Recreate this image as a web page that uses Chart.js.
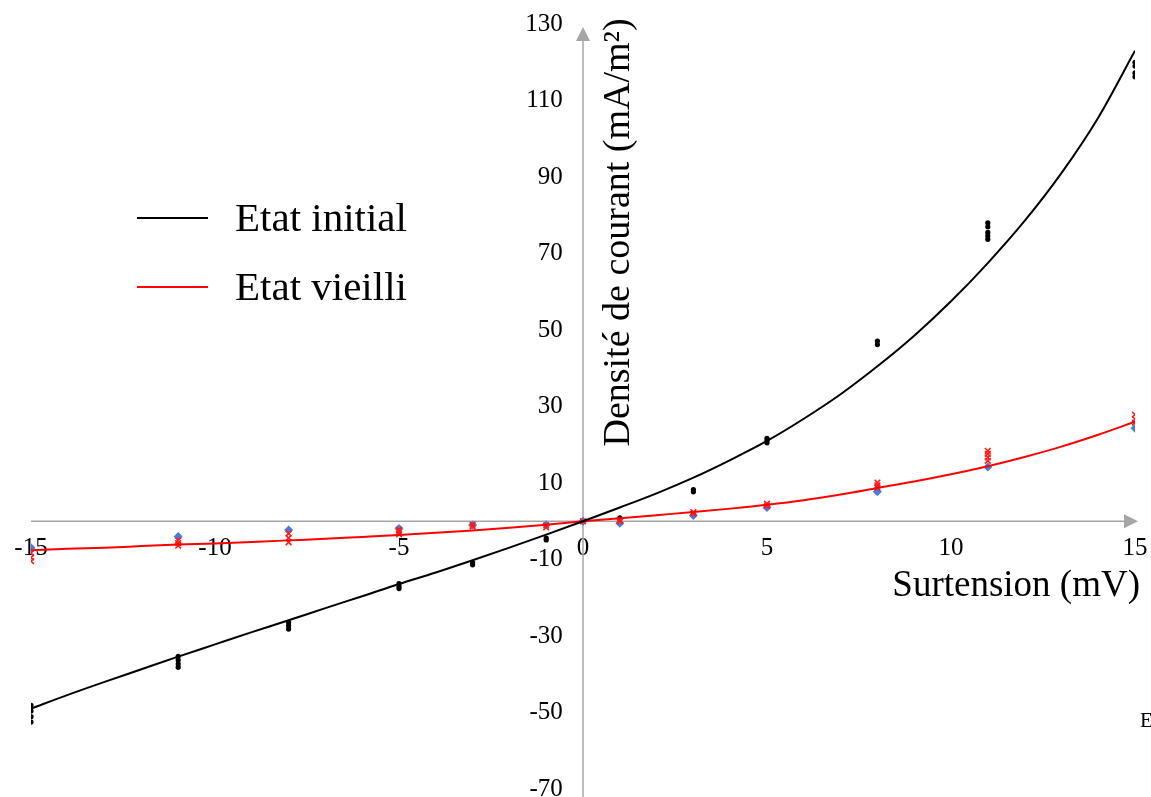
<!DOCTYPE html>
<html>
<head>
<meta charset="utf-8">
<script src="https://cdn.jsdelivr.net/npm/chart.js@4/dist/chart.umd.min.js"></script>
<style>
  html, body { margin: 0; padding: 0; background: #fff; }
  #wrap { width: 1151px; height: 797px; }
</style>
</head>
<body>
<div id="wrap"><canvas id="c" width="1151" height="797"></canvas></div>
<script>
// Overpotential (mV) at which the fitted curves are sampled
const fitX = [-15,-14,-13,-12,-11,-10,-9,-8,-7,-6,-5,-4,-3,-2,-1,0,1,2,3,4,5,6,7,8,9,10,11,12,13,14,15];
// Fitted current density (mA/m²), initial state
const initialFit = [-49.0,-45.4,-42.0,-38.7,-35.4,-32.2,-29.0,-25.9,-22.7,-19.6,-16.4,-13.4,-10.2,-6.9,-3.5,0,3.6,7.3,11.4,16.0,21.0,26.8,33.2,40.5,48.5,57.5,67.5,78.5,91.0,105.5,123.0];
// Fitted current density (mA/m²), aged state
const agedFit = [-7.6,-7.2,-6.9,-6.5,-6.1,-5.8,-5.4,-5.0,-4.6,-4.1,-3.6,-3.0,-2.4,-1.7,-0.9,0,0.8,1.6,2.4,3.3,4.3,5.5,7.0,8.7,10.4,12.3,14.4,16.8,19.5,22.6,26.0];

// Measurement overpotentials (mV)
const measX = [-15,-11,-8,-5,-3,-1,0,1,3,5,8,11,15];
// Repeated measurements, initial state (mA/m²)
const initialMeasured = [
  [-48.1,-49.6,-51.1,-52.5],
  [-35.3,-36.3,-37.3,-38.2],
  [-26.4,-27.3,-28.2],
  [-16.3,-17.0,-17.6],
  [-10.8,-11.4],
  [-4.4,-4.9],
  [0],
  [0.5,0.9],
  [7.7,8.3],
  [20.5,21.1,21.7],
  [46.2,47.1],
  [73.7,74.6,75.5,77.0,78.0],
  [116.2,117.2,119.0,120.0]
];
// Aged state, first run (mA/m²)
const agedRunA = [-6.9,-4.0,-2.3,-1.9,-1.0,-0.9,0,-0.5,1.5,3.6,7.7,14.2,24.3];
// Aged state, repeated runs (mA/m²)
const agedRunsB = [
  [-8.3,-9.5,-10.4],
  [-5.0,-5.7,-6.4],
  [-3.2,-4.4,-5.5],
  [-2.2,-2.8,-3.4],
  [-0.9,-1.4],
  [-1.1,-1.6],
  [0],
  [0.0,0.3],
  [2.0,2.4],
  [4.0,4.6],
  [8.8,9.4,10.1],
  [15.8,16.7,17.6,18.4],
  [25.8,26.7,27.9]
];

const xTicks = [-15,-10,-5,0,5,10,15];
const yTicks = [-70,-50,-30,-10,10,30,50,70,90,110,130];

const seriesNames = ['Etat initial', 'Etat vieilli'];
const xTitle = 'Surtension (mV)';
const yTitle = 'Densité de courant (mA/m²)';
const cornerMark = 'E';

const SERIF = '"Liberation Serif", "DejaVu Serif", serif';

function pairs(xs, ys) { return xs.map((x, i) => ({ x: x, y: ys[i] })); }
function flatten(xs, groups) {
  const out = [];
  groups.forEach((g, i) => g.forEach(v => out.push({ x: xs[i], y: v })));
  return out;
}

// Axes through the origin, arrow heads, titles and legend
const decor = {
  id: 'decor',
  beforeDatasetsDraw(chart) {
    const { ctx, chartArea, scales } = chart;
    const xs = scales.x, ys = scales.y;
    const y0 = ys.getPixelForValue(0);
    const x0 = xs.getPixelForValue(0);
    const xEnd = xs.getPixelForValue(15) + 3;
    const yTop = ys.getPixelForValue(130) + 3;
    ctx.save();
    ctx.strokeStyle = '#a6a6a6';
    ctx.fillStyle = '#a6a6a6';
    ctx.lineWidth = 1.5;
    ctx.beginPath();
    ctx.moveTo(chartArea.left, y0);
    ctx.lineTo(xEnd - 10, y0);
    ctx.moveTo(x0, chart.height);
    ctx.lineTo(x0, yTop + 10);
    ctx.stroke();
    ctx.beginPath();
    ctx.moveTo(xEnd, y0);
    ctx.lineTo(xEnd - 14, y0 - 7);
    ctx.lineTo(xEnd - 14, y0 + 7);
    ctx.closePath();
    ctx.fill();
    ctx.beginPath();
    ctx.moveTo(x0, yTop);
    ctx.lineTo(x0 - 7, yTop + 14);
    ctx.lineTo(x0 + 7, yTop + 14);
    ctx.closePath();
    ctx.fill();
    ctx.restore();
  },
  afterDraw(chart) {
    const { ctx, chartArea, scales } = chart;
    const xs = scales.x, ys = scales.y;
    const y0 = ys.getPixelForValue(0);
    const x0 = xs.getPixelForValue(0);
    ctx.save();
    ctx.fillStyle = '#000';
    // x title
    ctx.font = '37px ' + SERIF;
    ctx.textAlign = 'right';
    ctx.textBaseline = 'alphabetic';
    ctx.fillText(xTitle, xs.getPixelForValue(15) + 5, y0 + 75);
    // y title
    ctx.save();
    ctx.translate(x0 + 46, ys.getPixelForValue(75.5));
    ctx.rotate(-Math.PI / 2);
    ctx.textAlign = 'center';
    ctx.font = '38px ' + SERIF;
    ctx.fillText(yTitle, 0, 0);
    ctx.restore();
    // legend
    const colors = chart.data.datasets.slice(0, 2).map(d => d.borderColor);
    const lx = chartArea.left + 106;
    const rows = [chartArea.top + 194, chartArea.top + 263];
    ctx.font = '41px ' + SERIF;
    ctx.textAlign = 'left';
    rows.forEach((ry, i) => {
      ctx.strokeStyle = colors[i];
      ctx.lineWidth = 2;
      ctx.beginPath();
      ctx.moveTo(lx, ry);
      ctx.lineTo(lx + 71, ry);
      ctx.stroke();
      ctx.fillText(seriesNames[i], lx + 98, ry + 13);
    });
    // stray corner letter
    ctx.font = '21px ' + SERIF;
    ctx.fillText(cornerMark, chartArea.right + 5, ys.getPixelForValue(-50) + 14);
    ctx.restore();
  }
};

// y tick labels sit a little to the left of the vertical axis (value on the x scale)
const yLabelAnchor = -0.55;

new Chart(document.getElementById('c'), {
  type: 'scatter',
  data: {
    datasets: [
      {
        type: 'line', label: seriesNames[0], data: pairs(fitX, initialFit),
        borderColor: '#000000', borderWidth: 2, pointRadius: 0,
        cubicInterpolationMode: 'monotone', fill: false
      },
      {
        type: 'line', label: seriesNames[1], data: pairs(fitX, agedFit),
        borderColor: '#ff0000', borderWidth: 2, pointRadius: 0,
        cubicInterpolationMode: 'monotone', fill: false
      },
      {
        label: 'vieilli B', data: flatten(measX, agedRunsB),
        pointStyle: 'crossRot', pointRadius: 4, borderColor: '#ff1a1a',
        backgroundColor: '#ff1a1a', pointBorderWidth: 1.6
      },
      {
        label: 'vieilli A', data: pairs(measX, agedRunA),
        pointStyle: 'rectRot', pointRadius: 4.5, borderColor: '#4a7ad8',
        backgroundColor: '#4a7ad8', pointBorderWidth: 0
      },
      {
        label: 'initial mesures', data: flatten(measX, initialMeasured),
        pointStyle: 'circle', pointRadius: 2.6, borderColor: '#000',
        backgroundColor: '#000', pointBorderWidth: 0
      }
    ]
  },
  options: {
    responsive: false,
    animation: false,
    layout: { padding: { left: 31, right: 16, top: 24, bottom: 8 } },
    plugins: { legend: { display: false }, tooltip: { enabled: false } },
    scales: {
      x: {
        type: 'linear', position: { y: 0 }, min: -15, max: 15,
        afterBuildTicks: s => { s.ticks = xTicks.map(v => ({ value: v })); },
        afterFit: s => { s.paddingLeft = 0; s.paddingRight = 0; },
        grid: { display: false, drawTicks: false }, border: { display: false },
        ticks: { color: '#000', font: { family: SERIF, size: 25 }, padding: 12, maxRotation: 0, autoSkip: false }
      },
      y: {
        type: 'linear', position: { x: yLabelAnchor }, min: -70, max: 130,
        afterBuildTicks: s => { s.ticks = yTicks.map(v => ({ value: v })); },
        afterFit: s => { s.paddingTop = 0; s.paddingBottom = 0; },
        grid: { display: false, drawTicks: false }, border: { display: false },
        ticks: { color: '#000', font: { family: SERIF, size: 25 }, padding: 0, autoSkip: false }
      }
    }
  },
  plugins: [decor]
});
</script>
</body>
</html>
